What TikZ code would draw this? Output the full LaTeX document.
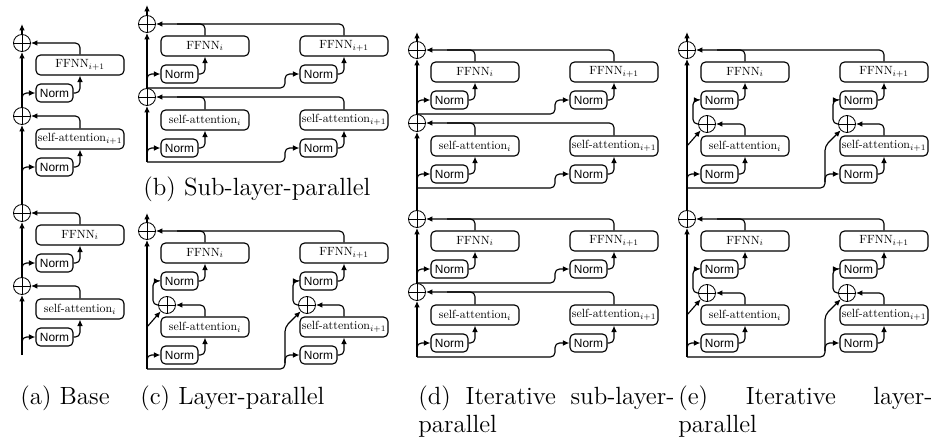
\documentclass[tikz,border=0pt]{standalone}
\usepackage{graphicx}
\usepackage{fontspec}
\newfontfamily\normfont{Liberation Sans}
\usetikzlibrary{arrows.meta}

% one drawing unit
\newdimen\pxu
\pxu=0.4818pt

% box labels are set at normal size and shrunk, so they keep the 10pt design
\newcommand\lbl[1]{\scalebox{0.574}{#1}}

\tikzset{
  conn/.style={line width=0.55pt, rounded corners=2.2pt},
  arr/.style={-{Latex[length=3.1pt,width=2.7pt]}},
  sublayer/.style={draw, line width=0.55pt, rounded corners=2.2pt,
    minimum width=88\pxu, minimum height=20\pxu, inner sep=0pt},
  normbox/.style={draw, line width=0.55pt, rounded corners=2.2pt,
    minimum width=37\pxu, minimum height=18\pxu, inner sep=0pt},
  addop/.style={draw, circle, line width=0.4pt, minimum size=17\pxu, inner sep=0pt,
    path picture={\draw[line width=0.4pt]
      (path picture bounding box.north) -- (path picture bounding box.south)
      (path picture bounding box.west) -- (path picture bounding box.east);}},
  caption/.style={anchor=base west, inner sep=0pt, font=\fontsize{12}{14}\selectfont},
}

% a sub-layer box with its Norm underneath
% #1 name, #2 left edge, #3 box centre y, #4 label
\newcommand\colunit[4]{%
  \node[sublayer] (#1b) at ({#2+44},{#3}) {\lbl{#4}};
  \node[normbox] (#1n) at ({#2+18.5},{#3+28}) {\lbl{\normfont Norm}};
  \draw[conn,arr] (#1n.east) -| (#1b.south);
}

% plain transformer layer: #1 name, #2 stream x, #3 top y, #4 FFNN label, #5 attention label
\newcommand\baseblock[5]{%
  \node[addop] (#1pa) at (#2,#3) {};
  \colunit{#1f}{#2+14}{#3+22}{#4}
  \node[addop] (#1pb) at (#2,{#3+73}) {};
  \colunit{#1s}{#2+14}{#3+96}{#5}
  \draw[conn,arr] (#1fb.north) |- (#1pa.east);
  \draw[conn,arr] (#1sb.north) |- (#1pb.east);
  \draw[conn,arr] (#2,{#3+58}) |- (#1fn.west);
  \draw[conn,arr] (#2,{#3+132}) |- (#1sn.west);
  \draw[conn,arr] (#1pb.north) -- (#1pa.south);
}

% two layers with parallel sub-layers: #1 name, #2 stream x, #3 top y
\newcommand\sublayerpar[3]{%
  \node[addop] (#1pa) at (#2,#3) {};
  \colunit{#1fl}{#2+14}{#3+22}{FFNN$_i$}
  \colunit{#1fr}{#2+153}{#3+22}{FFNN$_{i+1}$}
  \node[addop] (#1pb) at (#2,{#3+73}) {};
  \colunit{#1sl}{#2+14}{#3+96}{self-attention$_i$}
  \colunit{#1sr}{#2+153}{#3+96}{self-attention$_{i+1}$}
  \draw[conn,arr] (#1frb.north) |- (#1pa.east);
  \draw[conn] (#1flb.north) |- ({#2+30},#3);
  \draw[conn,arr] (#1srb.north) |- (#1pb.east);
  \draw[conn] (#1slb.north) |- ({#2+30},{#3+73});
  \draw[conn,arr] (#2,{#3+58}) |- (#1fln.west);
  \draw[conn,arr] (#2,{#3+64}) -- ({#2+138},{#3+64}) -- ({#2+138},{#3+50}) -- (#1frn.west);
  \draw[conn,arr] (#2,{#3+132}) |- (#1sln.west);
  \draw[conn,arr] (#2,{#3+138}) -- ({#2+138},{#3+138}) -- ({#2+138},{#3+124}) -- (#1srn.west);
  \draw[conn,arr] (#1pb.north) -- (#1pa.south);
}

% two layers running in parallel: #1 name, #2 stream x, #3 top y
\newcommand\layerpar[3]{%
  \node[addop] (#1pa) at (#2,#3) {};
  \colunit{#1fl}{#2+14}{#3+22}{FFNN$_i$}
  \colunit{#1fr}{#2+153}{#3+22}{FFNN$_{i+1}$}
  \node[addop] (#1ql) at ({#2+20},{#3+74}) {};
  \node[addop] (#1qr) at ({#2+160},{#3+74}) {};
  \colunit{#1sl}{#2+14}{#3+96}{self-attention$_i$}
  \colunit{#1sr}{#2+153}{#3+96}{self-attention$_{i+1}$}
  \draw[conn,arr] (#1frb.north) |- (#1pa.east);
  \draw[conn] (#1flb.north) |- ({#2+30},#3);
  \draw[conn,arr] (#1slb.north) |- (#1ql.east);
  \draw[conn,arr] (#1srb.north) |- (#1qr.east);
  \draw[conn,arr] (#1ql.west) -- ({#2+6},{#3+74}) -- ({#2+6},{#3+50}) -- (#1fln.west);
  \draw[conn,arr] (#1qr.west) -- ({#2+146},{#3+74}) -- ({#2+146},{#3+50}) -- (#1frn.west);
  \draw[conn,arr] (#2,{#3+96}) -- (#1ql.south west);
  \draw[conn,arr] (#2,{#3+138}) -- ({#2+138},{#3+138}) -- ({#2+138},{#3+96}) -- (#1qr.south west);
  \draw[conn,arr] (#2,{#3+132}) |- (#1sln.west);
  \draw[conn,arr] ({#2+138},{#3+132}) |- (#1srn.west);
}

\begin{document}
\begin{tikzpicture}[x=\pxu, y=-\pxu]
  \fill[white] (0,0) rectangle (933,440);
  \useasboundingbox (0,0) rectangle (933,440);

  % (a) base
  \baseblock{aU}{22}{43}{FFNN$_{i+1}$}{self-attention$_{i+1}$}
  \baseblock{aL}{22}{213}{FFNN$_i$}{self-attention$_i$}
  \coordinate (aIn) at (22,355);
  \coordinate (aOut) at (22,24);
  \draw[conn,arr] (aIn) -- (aLpb.south);
  \draw[conn,arr] (aLpa.north) -- (aUpb.south);
  \draw[conn,arr] (aUpa.north) -- (aOut);

  % (b) sub-layer-parallel
  \sublayerpar{b}{147}{24}
  \coordinate (bIn) at (147,162);
  \coordinate (bOut) at (147,5);
  \draw[conn,arr] (bIn) -- (bpb.south);
  \draw[conn,arr] (bpa.north) -- (bOut);

  % (c) layer-parallel
  \layerpar{c}{147}{231}
  \coordinate (cIn) at (147,369);
  \coordinate (cOut) at (147,213);
  \draw[conn,arr] (cIn) -- (cpa.south);
  \draw[conn,arr] (cpa.north) -- (cOut);

  % (d) iterative sub-layer-parallel
  \sublayerpar{dU}{417}{50}
  \sublayerpar{dL}{417}{219}
  \coordinate (dIn) at (417,357);
  \coordinate (dOut) at (417,32);
  \draw[conn,arr] (dIn) -- (dLpb.south);
  \draw[conn,arr] (dLpa.north) -- (dUpb.south);
  \draw[conn,arr] (dUpa.north) -- (dOut);

  % (e) iterative layer-parallel
  \layerpar{eU}{687}{50}
  \layerpar{eL}{687}{219}
  \coordinate (eIn) at (687,357);
  \coordinate (eOut) at (687,32);
  \draw[conn,arr] (eIn) -- (eLpa.south);
  \draw[conn,arr] (eLpa.north) -- (eUpa.south);
  \draw[conn,arr] (eUpa.north) -- (eOut);

  % captions
  \node[caption] (capa) at (20,404) {(a) Base};
  \node[caption] (capb) at (143,195) {(b) Sub-layer-parallel};
  \node[caption] (capc) at (140,404) {(c) Layer-parallel};
  \node[caption] (capd) at (418,404) {\makebox[256\pxu][s]{(d) Iterative sub-layer-}};
  \node[caption] (capd2) at (418,432) {parallel};
  \node[caption] (cape) at (678,404) {\makebox[254\pxu][s]{(e) Iterative layer-}};
  \node[caption] (cape2) at (678,432) {parallel};
\end{tikzpicture}
\end{document}
